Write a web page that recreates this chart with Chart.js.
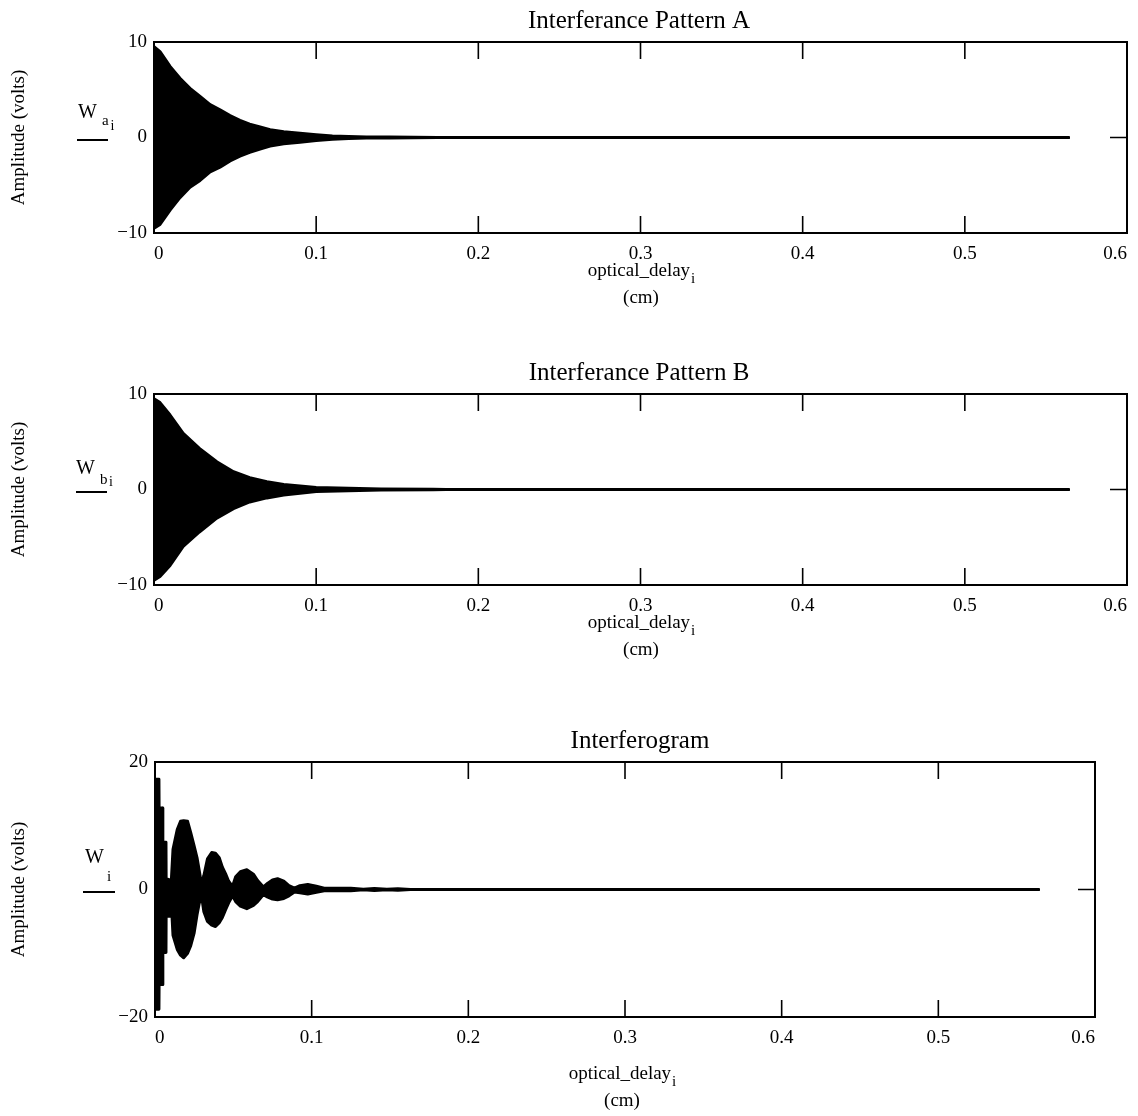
<!DOCTYPE html>
<html><head><meta charset="utf-8">
<script src="https://cdn.jsdelivr.net/npm/chart.js@4.4.0/dist/chart.umd.min.js"></script>
<style>
html,body{margin:0;padding:0;background:#fff;}
body{width:1138px;height:1116px;position:relative;overflow:hidden;}
canvas{position:absolute;left:0;}
</style></head><body>
<canvas id="c1" width="1138" height="340" style="top:0px"></canvas>
<canvas id="c2" width="1138" height="340" style="top:352px"></canvas>
<canvas id="c3" width="1138" height="396" style="top:720px"></canvas>
<script>
// ---- tick labels ----
const xTickValues = [0, 0.1, 0.2, 0.3, 0.4, 0.5, 0.6];
const xTickLabels = ['0', '0.1', '0.2', '0.3', '0.4', '0.5', '0.6'];
const yTickValuesAB = [-10, 0, 10];
const yTickLabelsAB = ['\u221210', '0', '10'];
const yTickValuesW = [-20, 0, 20];
const yTickLabelsW = ['\u221220', '0', '20'];

// ---- Interferance Pattern A (envelope), delay in cm ----
const delayA = [0, 0.0037, 0.0099, 0.016, 0.0222, 0.0284, 0.0346, 0.0407, 0.0469, 0.053, 0.059, 0.0654, 0.0716, 0.08, 0.09, 0.10, 0.11, 0.12, 0.131, 0.145, 0.16, 0.175, 0.564];
const upperA = [9.5, 9.0, 7.45, 6.2, 5.15, 4.3, 3.45, 2.9, 2.3, 1.8, 1.4, 1.1, 0.82, 0.6, 0.45, 0.3, 0.15, 0.1, 0.06, 0.04, 0.03, 0, 0];
const lowerA = [-9.5, -9.1, -7.6, -6.3, -5.2, -4.5, -3.6, -3.1, -2.45, -1.95, -1.55, -1.2, -0.9, -0.65, -0.5, -0.32, -0.18, -0.1, -0.06, -0.04, -0.03, 0, 0];

// ---- Interferance Pattern B ----
const delayB = [0, 0.0037, 0.0099, 0.018, 0.028, 0.0387, 0.049, 0.059, 0.0696, 0.08, 0.09, 0.10, 0.12, 0.14, 0.172, 0.18, 0.564];
const upperB = [9.5, 9.1, 7.8, 5.87, 4.3, 2.9, 1.86, 1.23, 0.81, 0.53, 0.36, 0.2, 0.12, 0.05, 0.02, 0, 0];
const lowerB = [-9.5, -9.1, -7.95, -5.95, -4.45, -3.0, -2.0, -1.3, -0.88, -0.58, -0.4, -0.22, -0.12, -0.06, -0.02, 0, 0];

// ---- Interferogram ----
const delayW = [0, 0.0025, 0.0026, 0.0049, 0.0050, 0.0070, 0.0071, 0.0094, 0.0103, 0.0115, 0.0142, 0.0163, 0.0183, 0.0208, 0.0228, 0.0250, 0.0268, 0.0282, 0.0297, 0.0312, 0.0335, 0.0362, 0.0386, 0.0410, 0.0430, 0.0450, 0.0470, 0.0495, 0.0515, 0.0545, 0.0586, 0.0628, 0.0655, 0.0692, 0.0720, 0.0750, 0.0782, 0.0822, 0.0855, 0.0890, 0.0925, 0.0975, 0.1030, 0.1080, 0.115, 0.125, 0.133, 0.14, 0.148, 0.155, 0.163, 0.564];
const upperW = [17.3, 17.3, 12.8, 12.8, 7.4, 7.4, 1.7, 1.5, 0.8, 6.3, 9.4, 10.7, 10.8, 10.7, 8.9, 6.8, 5.0, 3.0, 0.8, 2.2, 4.8, 5.8, 5.7, 5.0, 3.5, 2.5, 1.3, 0.5, 2.0, 2.8, 3.1, 2.4, 1.4, 0.4, 1.0, 1.5, 1.7, 1.3, 0.6, 0.2, 0.6, 0.8, 0.5, 0.2, 0.2, 0.2, 0.05, 0.15, 0.05, 0.1, 0, 0];
const lowerW = [-18.8, -18.8, -14.9, -14.9, -9.9, -9.9, -4.2, -4.2, -1.5, -7.2, -9.4, -10.3, -10.7, -10.0, -8.8, -6.8, -4.0, -2.2, -1.0, -3.5, -5.0, -5.6, -5.8, -5.2, -4.4, -3.2, -2.1, -1.0, -1.9, -2.6, -3.0, -2.5, -1.9, -0.8, -1.2, -1.5, -1.6, -1.4, -1.0, -0.4, -0.5, -0.7, -0.45, -0.2, -0.2, -0.2, -0.05, -0.15, -0.05, -0.1, 0, 0];

const FONT = '"Liberation Serif", "Times New Roman", serif';

const framePlugin = {
  id: 'frame',
  afterDatasetsDraw(chart) {
    const {ctx, chartArea: a, scales: {x, y}} = chart;
    ctx.save();
    ctx.strokeStyle = '#000';
    ctx.lineWidth = 2;
    ctx.strokeRect(a.left, a.top, a.right - a.left, a.bottom - a.top);
    ctx.lineWidth = 1.6;
    const L = 17;
    ctx.beginPath();
    x.ticks.forEach(t => {
      if (t.value <= x.min || t.value >= x.max) return;
      const px = x.getPixelForValue(t.value);
      ctx.moveTo(px, a.top); ctx.lineTo(px, a.top + L);
      ctx.moveTo(px, a.bottom); ctx.lineTo(px, a.bottom - L);
    });
    y.ticks.forEach(t => {
      if (t.value <= y.min || t.value >= y.max) return;
      const py = y.getPixelForValue(t.value);
      ctx.moveTo(a.left, py); ctx.lineTo(a.left + L, py);
      ctx.moveTo(a.right, py); ctx.lineTo(a.right - L, py);
    });
    ctx.stroke();
    ctx.restore();
  }
};

const decorPlugin = {
  id: 'decor',
  afterDraw(chart, args, o) {
    const ctx = chart.ctx, a = chart.chartArea;
    const zero = chart.scales.y.getPixelForValue(0);
    ctx.save();
    ctx.fillStyle = '#000';
    ctx.strokeStyle = '#000';
    ctx.textBaseline = 'alphabetic';
    // title
    ctx.font = '25px ' + FONT;
    ctx.textAlign = 'center';
    ctx.fillText(o.title, o.titleX, a.top - 14);
    // x axis title with subscript
    const main = 'optical_delay';
    ctx.font = '19px ' + FONT;
    const w = ctx.measureText(main).width;
    ctx.font = '15px ' + FONT;
    const ws = ctx.measureText('i').width;
    const cx = o.xTitleX;
    const left = cx - (w + ws) / 2;
    const base = a.bottom + o.xTitleDy;
    ctx.textAlign = 'left';
    ctx.font = '19px ' + FONT;
    ctx.fillText(main, left, base);
    ctx.font = '15px ' + FONT;
    ctx.fillText('i', left + w + 1, base + 7);
    ctx.font = '19px ' + FONT;
    ctx.textAlign = 'center';
    ctx.fillText('(cm)', cx, base + o.cmDy);
    // legend-like label
    ctx.textAlign = 'left';
    ctx.font = '20px ' + FONT;
    ctx.fillText('W', o.wX, zero + o.wDy);
    o.subs.forEach(s => {
      ctx.font = s.size + 'px ' + FONT;
      ctx.fillText(s.t, s.x, zero + s.dy);
    });
    ctx.lineWidth = 2;
    ctx.beginPath();
    ctx.moveTo(o.lineX0, zero + 2.5);
    ctx.lineTo(o.lineX1, zero + 2.5);
    ctx.stroke();
    ctx.restore();
  }
};

function makeChart(id, xs, ys1, ys2, yTicks, yLabels, cfg) {
  const common = {borderColor: '#000', backgroundColor: '#000', borderWidth: 3, pointRadius: 0, tension: 0, borderCapStyle: 'round', borderJoinStyle: 'round'};
  new Chart(document.getElementById(id), {
    type: 'line',
    data: {
      datasets: [
        Object.assign({label: 'upper', data: xs.map((x, i) => ({x: x, y: ys1[i]})), fill: '+1'}, common),
        Object.assign({label: 'lower', data: xs.map((x, i) => ({x: x, y: ys2[i]})), fill: false}, common)
      ]
    },
    options: {
      responsive: false,
      animation: false,
      devicePixelRatio: 1,
      layout: {padding: {top: 42, right: cfg.padRight, left: 0, bottom: 0}},
      plugins: {
        legend: {display: false},
        tooltip: {enabled: false},
        title: {display: false},
        decor: cfg.decor
      },
      scales: {
        x: {
          type: 'linear', min: 0, max: 0.6,
          afterBuildTicks: s => { s.ticks = xTickValues.map(v => ({value: v})); },
          afterFit: s => { s.height = cfg.xHeight; },
          ticks: {
            callback: (v, i) => xTickLabels[i],
            font: {family: FONT, size: 19}, color: '#000',
            padding: 10, align: 'inner', maxRotation: 0, autoSkip: false
          },
          grid: {display: false, drawTicks: false},
          border: {display: false}
        },
        y: {
          type: 'linear', min: yTicks[0], max: yTicks[yTicks.length - 1],
          afterBuildTicks: s => { s.ticks = yTicks.map(v => ({value: v})); },
          afterFit: s => { s.width = cfg.yWidth; },
          ticks: {
            callback: (v, i) => yLabels[i],
            font: {family: FONT, size: 19}, color: '#000', padding: 7, autoSkip: false
          },
          title: {display: true, text: 'Amplitude (volts)', color: '#000', font: {family: FONT, size: 19}, padding: {top: 8, bottom: 0}},
          grid: {display: false, drawTicks: false},
          border: {display: false}
        }
      }
    },
    plugins: [framePlugin, decorPlugin]
  });
}

makeChart('c1', delayA, upperA, lowerA, yTickValuesAB, yTickLabelsAB, {
  padRight: 11, xHeight: 107, yWidth: 154,
  decor: {title: 'Interferance Pattern A', titleX: 639, xTitleX: 641, xTitleDy: 43, cmDy: 27,
    wX: 78, wDy: -19.5, lineX0: 77, lineX1: 108,
    subs: [{t: 'a', x: 102, dy: -12.5, size: 15}, {t: 'i', x: 110.5, dy: -7.5, size: 14}]}
});
makeChart('c2', delayB, upperB, lowerB, yTickValuesAB, yTickLabelsAB, {
  padRight: 11, xHeight: 107, yWidth: 154,
  decor: {title: 'Interferance Pattern B', titleX: 639, xTitleX: 641, xTitleDy: 43, cmDy: 27,
    wX: 76, wDy: -16, lineX0: 76, lineX1: 107,
    subs: [{t: 'b', x: 100, dy: -6, size: 15}, {t: 'i', x: 109, dy: -4, size: 14}]}
});
makeChart('c3', delayW, upperW, lowerW, yTickValuesW, yTickLabelsW, {
  padRight: 43, xHeight: 99, yWidth: 155,
  decor: {title: 'Interferogram', titleX: 640, xTitleX: 622, xTitleDy: 62, cmDy: 27,
    wX: 85, wDy: -26.7, lineX0: 83, lineX1: 115,
    subs: [{t: 'i', x: 107, dy: -8.3, size: 15}]}
});
</script>
</body></html>
